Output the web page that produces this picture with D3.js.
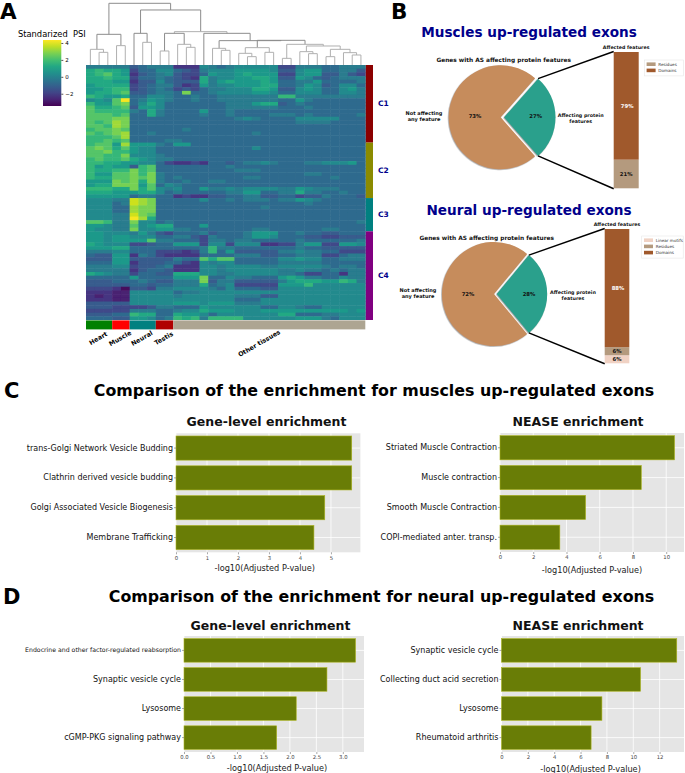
<!DOCTYPE html>
<html>
<head>
<meta charset="utf-8">
<script src="https://cdn.jsdelivr.net/npm/d3@7"></script>
<style>
html,body{margin:0;padding:0;background:#fff}
svg{display:block}
text{font-family:"DejaVu Sans",sans-serif}
</style>
</head>
<body>
<svg id="c" width="685" height="773" viewBox="0 0 685 773"></svg>
<script>
// ---------- DATA ----------
// Heatmap: one character per cell, level 0-f -> PSI = -3.25 + 0.5 * level
const heatRows = [
"666 66 456 66 222 7 656 77777 33 666 55 666",
"9a9 98 355 77 543 6 777 88887 44 788 55 664",
"9ab 98 245 67 433 5 877 89888 33 788 44 643",
"99a 99 355 65 432 9 677 88998 44 875 45 666",
"999 88 244 75 444 9 689 88898 55 668 55 556",
"899 99 345 66 423 8 677 88899 55 687 45 775",
"889 aa 345 65 343 5 667 77998 44 787 55 786",
"899 ab 445 66 5c5 5 677 77887 55 777 55 776",
"a98 89 557 76 556 5 566 66666 aa 666 66 666",
"787 bf 568 76 556 5 566 66666 55 865 55 555",
"a88 bc 579 75 555 5 556 66899 45 655 55 555",
"b99 ab 488 75 555 5 556 66666 55 565 55 555",
"baa aa 659 65 555 8 556 55555 55 555 55 555",
"bbb ab 559 65 555 6 556 55556 66 565 55 556",
"bbb cc 555 55 555 5 555 67655 55 777 77 555",
"bab dc 555 55 555 5 555 55555 55 666 65 555",
"bba dc 555 55 555 5 555 55555 55 555 55 555",
"abb cb 555 55 565 5 555 55555 55 555 55 555",
"bab cd 556 55 555 5 555 55655 55 555 55 555",
"aaa bd 555 55 555 5 555 55555 55 555 55 555",
"aab ab 555 56 655 5 555 55555 55 555 55 555",
"abb 8d 888 65 885 5 555 55555 55 555 55 555",
"bcb 9b 877 55 555 5 555 55755 55 555 55 555",
"bbc aa 877 55 555 5 555 55555 55 555 55 555",
"bba ac 777 65 555 5 555 55555 55 555 55 555",
"aba ab 987 66 555 5 555 55555 55 555 55 555",
"aa9 98 877 53 223 2 554 56676 55 566 77 785",
"a89 88 4ab 55 555 5 556 55555 55 555 55 555",
"a99 aa cab 55 555 5 555 66655 55 555 55 555",
"a88 bb cac 65 555 5 555 55555 55 566 55 555",
"a99 bb cbc 65 655 5 555 56655 55 555 56 555",
"888 cb c9c 65 565 5 665 55555 55 555 55 555",
"899 cc c8b 57 655 5 555 55555 55 555 55 555",
"aaa 99 c9b 76 755 8 667 67777 66 876 66 555",
"999 88 899 75 655 5 556 68855 66 966 55 655",
"888 88 566 55 232 2 445 56644 55 344 65 554",
"777 66 edc 55 555 7 556 56665 66 876 55 555",
"777 56 edc 55 555 5 555 55555 55 565 55 555",
"777 55 dcc 55 555 5 555 55565 55 555 55 555",
"777 55 dcc 55 555 5 555 55555 55 555 55 555",
"777 66 ecb 55 555 5 555 55555 55 555 55 555",
"777 66 fd9 55 555 5 555 55555 55 555 55 555",
"bba 66 c77 56 555 5 555 55555 55 555 55 556",
"887 66 b78 99 555 8 555 55555 55 555 55 555",
"877 66 c77 88 665 5 555 55665 55 555 66 555",
"887 77 686 43 555 6 455 56888 55 655 44 555",
"887 88 777 55 664 3 655 56887 55 544 33 444",
"887 88 88b 66 555 3 665 66555 55 655 55 556",
"987 77 334 55 888 3 773 77722 33 688 33 887",
"888 99 555 55 555 6 a66 55555 55 655 44 444",
"666 77 555 33 323 6 a58 44444 66 766 55 333",
"544 88 265 32 222 5 555 66644 55 666 33 566",
"444 88 444 44 655 b 9bb 55555 77 877 55 666",
"555 88 244 45 532 7 677 55555 66 666 55 555",
"666 77 344 56 222 7 767 77766 77 777 65 665",
"666 66 245 54 222 7 767 77777 66 766 56 566",
"987 66 355 44 999 7 766 77777 66 533 55 266",
"555 55 855 55 888 c 557 66555 89 866 55 766",
"444 55 565 44 666 c 466 44444 68 999 88 a96",
"444 44 554 55 666 9 567 33333 88 8a7 77 777",
"333 20 443 66 777 7 657 55544 77 777 77 777",
"222 11 777 77 566 7 777 77777 77 777 77 777",
"212 11 777 77 677 7 777 66644 77 777 77 777",
"222 11 777 77 777 7 777 55577 77 777 77 777",
"444 44 777 77 888 7 888 66677 77 777 77 777",
"444 33 334 66 555 8 777 77755 77 655 77 777",
"333 33 666 55 677 9 888 77788 88 888 88 878",
"444 55 a99 55 988 7 577 77777 99 555 66 777",
"555 44 887 56 a9a 6 aaa a7777 77 888 65 777"
];
const clusterNames = ["C1","C2","C3","C4"];
const clusterSizes = [21,15,9,24];
const clusterColors = ["#8b0000","#8b8b00","#008080","#800080"];
const tissueNames = ["Heart","Muscle","Neural","Testis","Other tissues"];
const tissueSizes = [3,2,3,2,22];
const tissueColors = ["#008000","#ff0000","#008080","#b00000","#ada592"];
const colorTicks = [4,2,0,-2];
// Dendrogram: [height, left, right]; 0 = leaf
const dendro = [185,
  [92,[47,0,[38,0,0]],[58,0,0]],
  [165,
    [95,0,[68,0,0]],
    [100,
      [95,[42,0,0],[62,0,[53,0,0]]],
      [95,0,
        [73,[50,0,[44,0,0]],
            [74,[52,[35,0,[25,0,0]],[38,0,0]],
                [62,[20,0,0],
                    [57,[40,0,[34,0,0]],
                        [47,[25,0,0],[37,0,[30,0,0]]]]]]]]]]];
const pieMuscle = [27,73];
const pieNeural = [28,72];
const barMuscleNames = ["Domains","Residues"];
const barMuscleValues = [79,21];
const barNeuralNames = ["Domains","Residues","Linear motifs"];
const barNeuralValues = [88,6,6];
const cGeneNames = ["trans-Golgi Network Vesicle Budding","Clathrin derived vesicle budding","Golgi Associated Vesicle Biogenesis","Membrane Trafficking"];
const cGeneValues = [5.67,5.67,4.8,4.45];
const cNeaseNames = ["Striated Muscle Contraction","Muscle contraction","Smooth Muscle Contraction","COPI-mediated anter. transp."];
const cNeaseValues = [10.5,8.5,5.15,3.6];
const dGeneNames = ["Endocrine and other factor-regulated reabsorption","Synaptic vesicle cycle","Lysosome","cGMP-PKG signaling pathway"];
const dGeneValues = [3.24,2.7,2.12,1.75];
const dNeaseNames = ["Synaptic vesicle cycle","Collecting duct acid secretion","Lysosome","Rheumatoid arthritis"];
const dNeaseValues = [13.3,10.55,7.62,6.8];

// ---------- SETUP ----------
const svg = d3.select("#c");
const defs = svg.append("defs");
const NAVY = "#00008b";
function txt(x,y,s,size,opt={}){
  return svg.append("text").attr("x",x).attr("y",y).text(s)
    .attr("font-size",size)
    .attr("font-weight",opt.w||"normal")
    .attr("fill",opt.f||"#000")
    .attr("text-anchor",opt.a||"middle")
    .attr("dominant-baseline",opt.b||"central");
}
// Panel letters
txt(0,18.5,"A",21.5,{w:"bold",a:"start",b:"auto"});
txt(391,18.5,"B",21.5,{w:"bold",a:"start",b:"auto"});
txt(4,397.5,"C",21,{w:"bold",a:"start",b:"auto"});
txt(3,604,"D",21,{w:"bold",a:"start",b:"auto"});

// ---------- HEATMAP ----------
const hm = {x0:86,x1:365.3,y0:65,y1:320};
const grid = heatRows.map(r=>Array.from(r.replace(/ /g,"")).map(c=>-3.25+0.5*parseInt(c,16)));
const xH = d3.scaleBand().domain(d3.range(32)).range([hm.x0,hm.x1]);
const yH = d3.scaleBand().domain(d3.range(grid.length)).range([hm.y0,hm.y1]);
const color = d3.scaleSequential(d3.interpolateViridis).domain([-3.45,4.35]);
const blur = defs.append("filter").attr("id","soft").attr("filterUnits","userSpaceOnUse")
  .attr("x",hm.x0).attr("y",hm.y0).attr("width",hm.x1-hm.x0).attr("height",hm.y1-hm.y0);
blur.append("feGaussianBlur").attr("stdDeviation",0.55);
const gH = svg.append("g").attr("filter","url(#soft)");
grid.forEach((row,i)=>{
  gH.selectAll(null).data(row).enter().append("rect")
    .attr("x",(d,j)=>xH(j)).attr("y",yH(i))
    .attr("width",xH.bandwidth()+0.5).attr("height",yH.bandwidth()+0.5)
    .attr("fill",d=>color(d));
});
// Dendrogram
const toNode = a => a===0 ? {h:0} : {h:a[0],children:[toNode(a[1]),toNode(a[2])]};
const root = d3.hierarchy(toNode(dendro));
let leafI=0;
root.eachAfter(n=>{
  n.px = n.children ? (n.children[0].px+n.children[1].px)/2 : xH(leafI++)+xH.bandwidth()/2;
});
const yD = d3.scaleLinear().domain([0,185]).range([hm.y0,hm.y0-61.7]);
const gD = svg.append("g").attr("fill","none").attr("stroke","#a6a6a6").attr("stroke-width",1);
root.descendants().filter(n=>n.children).forEach(n=>{
  const [a,b]=n.children;
  gD.append("path").attr("d",`M${a.px},${yD(a.data.h)}V${yD(n.data.h)}H${b.px}V${yD(b.data.h)}`)
    .attr("stroke",n.data.h>=70 && n.data.h!==100 ? "#8c8c8c":"#b0b0b0");
});
// Row clusters
let acc=0;
clusterSizes.forEach((s,i)=>{
  const y0=yH(acc), y1=yH(acc)+s*yH.step();
  svg.append("rect").attr("x",365.8).attr("y",y0).attr("width",7.2).attr("height",y1-y0).attr("fill",clusterColors[i]);
  txt(378,(y0+y1)/2,clusterNames[i],7.5,{w:"bold",a:"start",f:NAVY});
  acc+=s;
});
// Column tissues
acc=0;
const tissueLabelY=[338,338,338,338,343];
tissueSizes.forEach((s,i)=>{
  const x0=xH(acc), x1=xH(acc)+s*xH.step();
  svg.append("rect").attr("x",x0).attr("y",320.4).attr("width",x1-x0).attr("height",9).attr("fill",tissueColors[i]);
  const cx = i<4 ? (x0+x1)/2-1 : 259;
  svg.append("text").text(tissueNames[i]).attr("transform",`translate(${cx},${tissueLabelY[i]}) rotate(-30)`)
    .attr("text-anchor","middle").attr("dominant-baseline","central")
    .attr("font-size",6.3).attr("font-weight","bold");
  acc+=s;
});
// Colour bar
const grad = defs.append("linearGradient").attr("id","vir").attr("x1",0).attr("x2",0).attr("y1",1).attr("y2",0);
d3.range(0,1.01,0.1).forEach(t=>grad.append("stop").attr("offset",t).attr("stop-color",d3.interpolateViridis(t)));
svg.append("rect").attr("x",43).attr("y",40).attr("width",18.3).attr("height",66).attr("fill","url(#vir)");
const yC = d3.scaleLinear().domain([-3.45,4.35]).range([106,40]);
const axC = svg.append("g").attr("transform","translate(61.3,0)")
  .call(d3.axisRight(yC).tickValues(colorTicks).tickSize(2).tickPadding(2).tickFormat(d=>d<0?"\u2212"+(-d):d));
axC.select(".domain").remove();
axC.selectAll("text").attr("font-size",5.5).attr("font-family","DejaVu Sans");
axC.selectAll("line").attr("stroke","#555");
txt(18,33.8,"Standarized  PSI",8.3,{a:"start"}).style("white-space","pre");

// ---------- PIES ----------
defs.append("filter").attr("id","sh").attr("x","-10%").attr("y","-10%").attr("width","120%").attr("height","120%")
  .append("feDropShadow").attr("dx",-0.6).attr("dy",0.6).attr("stdDeviation",0.4).attr("flood-color","#666").attr("flood-opacity",0.7);
const SMALL="#2ca08c", BIG="#c68c5c";
const barColors=["#a0592c","#b49a7e","#f0d2c4"];
function pieBlock(o){
  const total=d3.sum(o.pie);
  const half=o.pie[0]/total*Math.PI;
  const arcs=d3.pie().sort(null).startAngle(Math.PI/2-half).endAngle(Math.PI/2-half+2*Math.PI)(o.pie);
  const arcGen=d3.arc().innerRadius(0);
  const g=svg.append("g").attr("filter","url(#sh)");
  g.append("path").attr("transform",`translate(${o.smallC})`)
    .attr("d",arcGen({...arcs[0],outerRadius:o.rs})).attr("fill",SMALL);
  g.append("path").attr("transform",`translate(${o.bigC})`)
    .attr("d",arcGen({...arcs[1],outerRadius:o.rb})).attr("fill",BIG);
  const tipTop=[o.smallC[0]+o.rs*Math.sin(arcs[0].startAngle),o.smallC[1]-o.rs*Math.cos(arcs[0].startAngle)];
  const tipBot=[o.smallC[0]+o.rs*Math.sin(arcs[0].endAngle),o.smallC[1]-o.rs*Math.cos(arcs[0].endAngle)];
  // stacked bar
  const yS=d3.scaleLinear().domain([0,100]).range([o.barY1,o.barY0]);
  let cum=0;
  const bw=o.barW;
  for(let i=o.bar.length-1;i>=0;i--){
    const v=o.bar[i];
    svg.append("rect").attr("x",o.barX).attr("width",bw).attr("y",yS(cum+v)).attr("height",yS(cum)-yS(cum+v)).attr("fill",barColors[i]);
    txt(o.barX+bw/2+(i===0?1:0),yS(cum+v/2),v+"%",5.3,{w:"bold",f:i===0?"#fff":"#111"});
    cum+=v;
  }
  const line=d3.line();
  svg.append("path").attr("d",line([tipTop,[o.barX,o.barY0-0.5]])).attr("stroke","#000").attr("stroke-width",1.5).attr("fill","none");
  svg.append("path").attr("d",line([tipBot,[o.barX,o.barY1+0.5]])).attr("stroke","#000").attr("stroke-width",1.5).attr("fill","none");
  // text
  txt(o.tx,o.ty,o.title,13.6,{w:"bold",f:NAVY});
  txt(o.gx,o.gy,"Genes with AS affecting protein features",5.85,{w:"bold",f:"#111"});
  txt(o.nx,o.ny,"Not affecting",5,{w:"bold",f:"#111"});
  txt(o.nx,o.ny+6,"any feature",5,{w:"bold",f:"#111"});
  txt(o.ax,o.ay,"Affecting protein",4.8,{w:"bold",f:"#111"});
  txt(o.ax,o.ay+6,"features",4.8,{w:"bold",f:"#111"});
  txt(o.p1x,o.py,o.pie[1]+"%",5.3,{w:"bold",f:"#111"});
  txt(o.p2x,o.py,o.pie[0]+"%",5.3,{w:"bold",f:"#111"});
  txt(o.barX+bw/2,o.barY0-5,"Affected features",4.75,{w:"bold",f:"#111"});
  // legend (top-to-bottom reverses stack)
  const names=o.names.slice().reverse();
  const cols=o.bar.map((_,i)=>barColors[i]).reverse();
  svg.append("rect").attr("x",o.lx).attr("y",o.ly).attr("width",o.lw).attr("height",3.5+names.length*6.2)
    .attr("fill","#fff").attr("stroke","#e6e6e6").attr("stroke-width",0.6);
  names.forEach((n,i)=>{
    const y=o.ly+4.2+i*6.2;
    svg.append("rect").attr("x",o.lx+2.3).attr("y",y-1.8).attr("width",9).attr("height",3.6).attr("fill",cols[i]);
    txt(o.lx+14,y,n,4.15,{a:"start",f:"#333"});
  });
}
pieBlock({pie:pieMuscle,bar:barMuscleValues,names:barMuscleNames,title:"Muscles up-regulated exons",
  smallC:[504,117.3],bigC:[500.7,117.3],rs:51.5,rb:52,
  barX:613.7,barW:25,barY0:52,barY1:188.3,
  tx:529,ty:32,gx:503.7,gy:60.3,nx:424,ny:113.3,ax:580.7,ay:115.7,p1x:475,p2x:535.7,py:116,
  lx:644.3,ly:60,lw:39});
pieBlock({pie:pieNeural,bar:barNeuralValues,names:barNeuralNames,title:"Neural up-regulated exons",
  smallC:[496.7,294],bigC:[494,294],rs:50.5,rb:52,
  barX:604.7,barW:24.6,barY0:229,barY1:363.3,
  tx:529,ty:209.5,gx:486.7,gy:238.3,nx:418,ny:290,ax:573,ay:292.3,p1x:468,p2x:529,py:294,
  lx:641.7,ly:236,lw:41.5});

// ---------- BAR PANELS ----------
function barPanel(o){
  const x=d3.scaleLinear().domain([0,o.max]).range([o.x0,o.x1]);
  const y=d3.scaleBand().domain(o.names).range([o.y0,o.y1]).paddingInner(0.19).paddingOuter(0.09);
  const g=svg.append("g");
  g.append("rect").attr("x",o.x0).attr("y",o.y0).attr("width",o.x1-o.x0).attr("height",o.y1-o.y0).attr("fill","#e5e5e5");
  g.selectAll(null).data(o.ticks).enter().append("line")
    .attr("x1",d=>x(d)).attr("x2",d=>x(d)).attr("y1",o.y0).attr("y2",o.y1).attr("stroke","#fff").attr("stroke-width",0.8);
  g.selectAll(null).data(o.names).enter().append("line")
    .attr("x1",o.x0).attr("x2",o.x1).attr("y1",d=>y(d)+y.bandwidth()/2).attr("y2",d=>y(d)+y.bandwidth()/2).attr("stroke","#fff").attr("stroke-width",0.8);
  g.selectAll(null).data(o.values).enter().append("rect")
    .attr("x",o.x0).attr("y",(d,i)=>y(o.names[i])).attr("width",d=>x(d)-o.x0).attr("height",y.bandwidth())
    .attr("fill","#697d06").attr("stroke","#aab21e").attr("stroke-width",0.6);
  const ax=svg.append("g").attr("transform",`translate(0,${o.y1})`)
    .call(d3.axisBottom(x).tickValues(o.ticks).tickSize(2).tickPadding(1.5).tickFormat(o.fmt||d3.format("d")));
  ax.select(".domain").remove();
  ax.selectAll("text").attr("font-size",5.3).attr("font-family","DejaVu Sans").attr("fill","#444");
  ax.selectAll("line").attr("stroke","#555").attr("stroke-width",0.5);
  const ay=svg.append("g").attr("transform",`translate(${o.x0},0)`)
    .call(d3.axisLeft(y).tickSize(2).tickPadding(1));
  ay.select(".domain").remove();
  ay.selectAll("line").attr("stroke","#555").attr("stroke-width",0.5);
  ay.selectAll("text").attr("font-family","DejaVu Sans").attr("fill","#111")
    .attr("font-size",d=>d.length>40?6.2:8);
  txt(o.subx,o.suby,o.sub,12.5,{w:"bold",f:"#111"});
  txt(o.labx,o.laby,"-log10(Adjusted P-value)",8.2,{f:"#222"});
}
const TICK_SUB1="Gene-level enrichment", TICK_SUB2="NEASE enrichment";
txt(374,390,"Comparison of the enrichment for muscles up-regulated exons",15.85,{w:"bold"});
txt(381.5,596.7,"Comparison of the enrichment for neural up-regulated exons",15.85,{w:"bold"});
barPanel({names:cGeneNames,values:cGeneValues,max:5.95,ticks:[0,1,2,3,4,5],x0:176,x1:360.4,y0:433.3,y1:552.3,
  sub:TICK_SUB1,subx:266.5,suby:421.7,labx:264.7,laby:567.7});
barPanel({names:cNeaseNames,values:cNeaseValues,max:11.07,ticks:[0,2,4,6,8,10],x0:500,x1:684,y0:433,y1:552,
  sub:TICK_SUB2,subx:578,suby:421.7,labx:592,laby:570});
barPanel({names:dGeneNames,values:dGeneValues,max:3.4,ticks:[0,0.5,1,1.5,2,2.5,3],fmt:d3.format(".1f"),x0:184,x1:364,y0:636,y1:752,
  sub:TICK_SUB1,subx:270.5,suby:625,labx:277,laby:767.7});
barPanel({names:dNeaseNames,values:dNeaseValues,max:13.85,ticks:[0,2,4,6,8,10,12],x0:501.5,x1:684,y0:636,y1:752,
  sub:TICK_SUB2,subx:578,suby:625,labx:590.6,laby:768.8});
</script>
</body>
</html>
